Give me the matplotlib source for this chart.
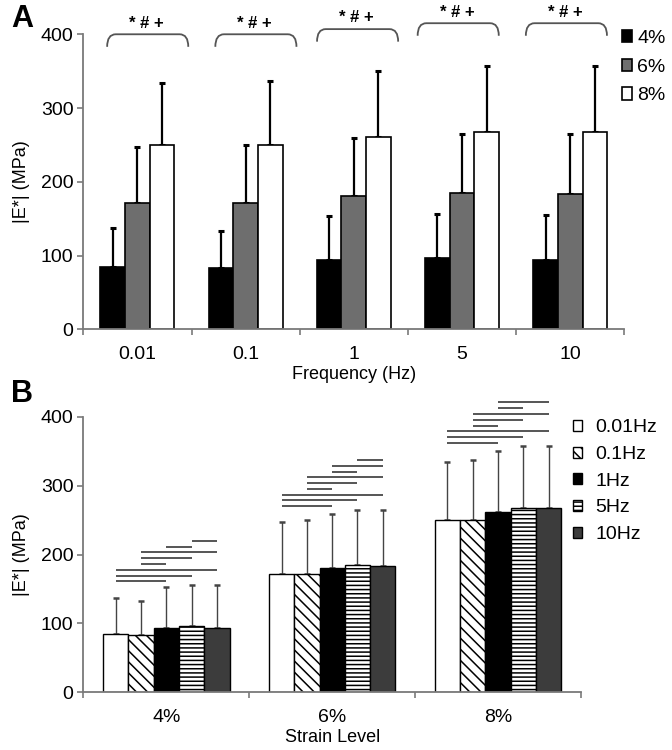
import numpy as np
import matplotlib
matplotlib.use("Agg")
import matplotlib.pyplot as plt
from matplotlib.patches import Patch, PathPatch
from matplotlib.path import Path

plt.rcParams['font.family'] = ['Liberation Sans', 'DejaVu Sans']
plt.rcParams['hatch.linewidth'] = 1.1

# data: mean |E*| and SD, rows = strain level, cols = frequency
freqs = ['0.01', '0.1', '1', '5', '10']
strains = ['4%', '6%', '8%']
means = [
    [84.5, 83.5, 94, 96, 94],
    [171, 171.5, 181, 184.5, 183.5],
    [249.5, 250.5, 261, 267.5, 268],
]
sds = [
    [53, 49.5, 59, 60, 61.5],
    [76, 78, 78.5, 80.5, 81.5],
    [85, 86, 89, 89.5, 89],
]
# significant differences between frequencies within each strain level
sig_pairs = [
    [(0, 2), (0, 3), (0, 4), (1, 2), (1, 3), (1, 4), (2, 3), (3, 4)],
    [(0, 2), (0, 3), (0, 4), (1, 2), (1, 3), (1, 4), (2, 3), (2, 4), (3, 4)],
    [(0, 2), (0, 3), (0, 4), (1, 2), (1, 3), (1, 4), (2, 3), (2, 4)],
]
sig_text = '* # +'

means = np.array(means)
sds = np.array(sds)

axcol = '#7a7a7a'

fig = plt.figure(figsize=(6.72, 7.5), dpi=100)


def style_axes(ax, n):
    for s in ['top', 'right']:
        ax.spines[s].set_visible(False)
    for s in ['left', 'bottom']:
        ax.spines[s].set_color(axcol)
        ax.spines[s].set_linewidth(1.3)
    ax.set_xlim(-0.5, n - 0.5)
    ax.set_ylim(0, 400)
    ax.set_yticks([0, 100, 200, 300, 400])
    ax.set_xticks(np.arange(n))
    ax.set_xticks(np.arange(n + 1) - 0.5, minor=True)
    ax.tick_params(axis='x', which='major', length=0, pad=12, labelsize=14)
    ax.tick_params(axis='x', which='minor', length=4, color=axcol, width=1.2)
    ax.tick_params(axis='y', length=4, color=axcol, width=1.2, labelsize=14, pad=3)


# ---------------- panel A ----------------
axA = fig.add_axes([0.124, 0.561, 0.805, 0.3933])
colsA = ['black', '#6e6e6e', 'white']
w = 0.228
x = np.arange(len(freqs))
for i in range(3):
    xi = x + (i - 1) * w
    axA.bar(xi, means[i], w, color=colsA[i], edgecolor='black', linewidth=1.2, zorder=2)
    axA.errorbar(xi, means[i], yerr=[np.zeros(5), sds[i]], fmt='none', ecolor='black',
                 elinewidth=1.6, capsize=2.2, capthick=2.2, zorder=1)
style_axes(axA, len(freqs))
axA.set_xticklabels(freqs)
axA.set_xlabel('Frequency (Hz)', fontsize=13, labelpad=2)
axA.set_ylabel('|E*| (MPa)', fontsize=13, labelpad=8)

# brackets over each frequency group
br_left = [-0.28, -0.28, -0.34, -0.41, -0.41]
br_top = [400, 400, 407, 415, 415]
br_w = 0.75
for k in range(len(freqs)):
    x0 = k + br_left[k]
    x1 = x0 + br_w
    yt = br_top[k]
    yb = yt - 17
    dx = 0.08
    verts = [(x0, yb), (x0, yt), (x0 + dx, yt), (x1 - dx, yt), (x1, yt), (x1, yb)]
    codes = [Path.MOVETO, Path.CURVE3, Path.CURVE3, Path.LINETO, Path.CURVE3, Path.CURVE3]
    axA.add_patch(PathPatch(Path(verts, codes), fill=False, edgecolor='#555555',
                            linewidth=1.3, clip_on=False))
    axA.text((x0 + x1) / 2 - 0.01, yt + 5, sig_text, ha='center', va='bottom',
             fontsize=12, fontweight='bold', clip_on=False)

handlesA = [Patch(facecolor=c, edgecolor='black', linewidth=1.2) for c in colsA]
axA.legend(handlesA, strains, loc='upper left', bbox_to_anchor=(0.925, 0.96),
           bbox_transform=fig.transFigure, frameon=False, fontsize=14,
           handlelength=0.55, handleheight=0.6, handletextpad=0.25, labelspacing=0.6,
           borderpad=0, borderaxespad=0)
fig.text(0.033, 0.975, 'A', fontsize=22, fontweight='bold', va='center', ha='center')

# ---------------- panel B ----------------
axB = fig.add_axes([0.124, 0.0769, 0.7406, 0.3675])
colsB = ['white', 'white', 'black', 'white', '#3c3c3c']
hatchB = ['', '\\\\\\', '', '----', '']
fq_labels = [f + 'Hz' for f in freqs]
wb = 0.1526
xs = np.arange(len(strains))
for j in range(len(freqs)):
    xj = xs + (j - 2) * wb
    axB.bar(xj, means[:, j], wb, color=colsB[j], hatch=hatchB[j], edgecolor='black',
            linewidth=1.0, zorder=2, label=fq_labels[j])
    axB.errorbar(xj, means[:, j], yerr=[np.zeros(3), sds[:, j]], fmt='none',
                 ecolor='#444444', elinewidth=1.0, capsize=2, capthick=1.8, zorder=1)

# significance lines above each strain group
step = 8.4
for g in range(len(strains)):
    tops = means[g] + sds[g]
    y = tops.max() + 5
    for a, b in sig_pairs[g]:
        xa = g + (a - 2) * wb
        xb = g + (b - 2) * wb
        axB.plot([xa, xb], [y, y], color='#555555', lw=1.4, clip_on=False,
                 solid_capstyle='butt')
        y += step

style_axes(axB, len(strains))
axB.set_xticklabels(strains)
axB.set_xlabel('Strain Level', fontsize=13, labelpad=2)
axB.set_ylabel('|E*| (MPa)', fontsize=13, labelpad=8)
axB.legend(loc='upper left', bbox_to_anchor=(0.853, 0.441),
           bbox_transform=fig.transFigure, frameon=False, fontsize=14,
           handlelength=0.45, handleheight=0.5, handletextpad=0.7, labelspacing=0.5,
           borderpad=0, borderaxespad=0)
fig.text(0.033, 0.475, 'B', fontsize=22, fontweight='bold', va='center', ha='center')

fig.savefig('out.png', dpi=100)
